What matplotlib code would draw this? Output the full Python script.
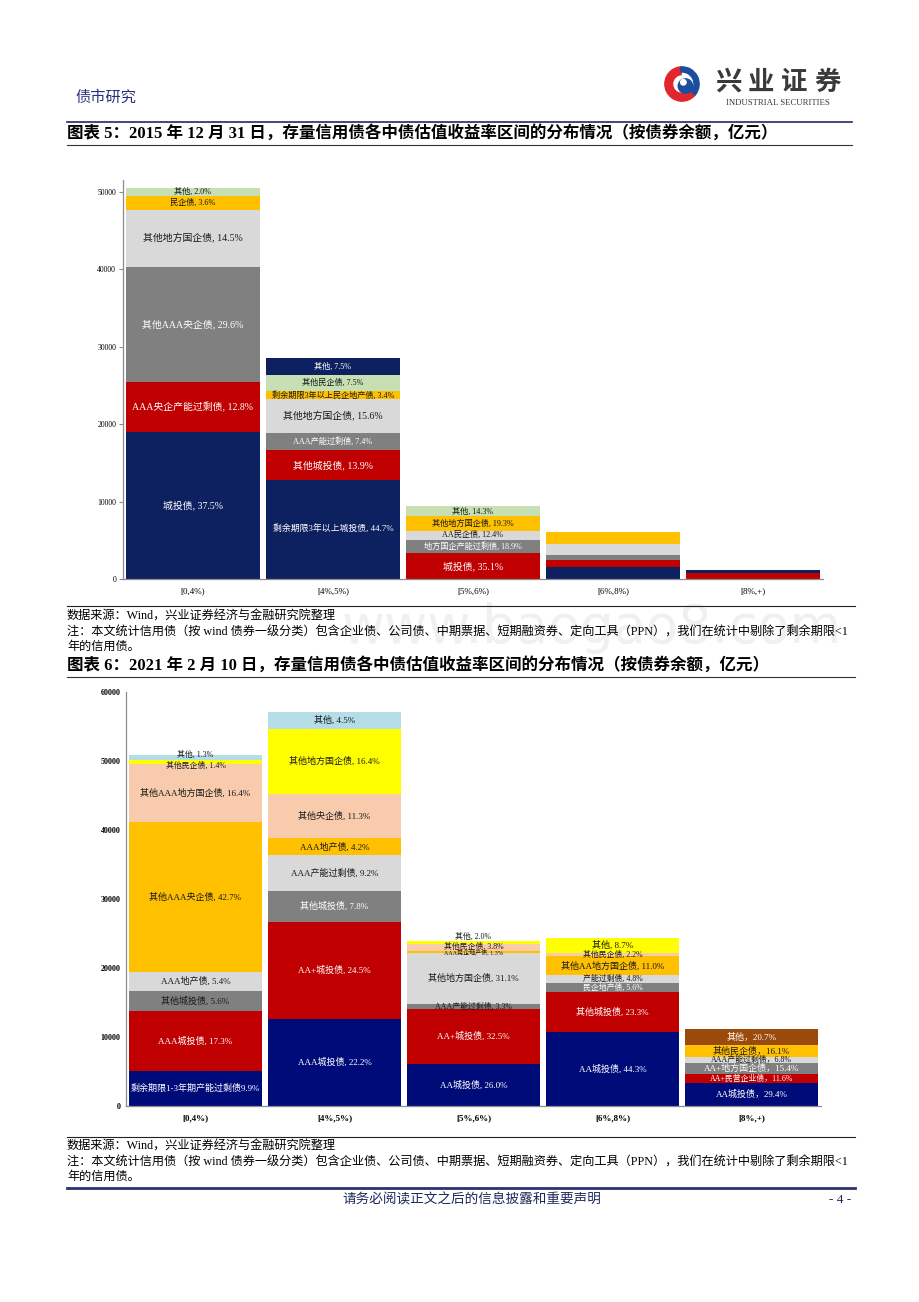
import matplotlib.pyplot as plt
from matplotlib.lines import Line2D
from matplotlib.patches import Wedge, Circle

plt.rcParams['font.family'] = ['Liberation Serif', 'Noto Sans CJK SC', 'DejaVu Sans']

W, H = 920, 1302
fig = plt.figure(figsize=(W / 100, H / 100), dpi=100)


def px_axes(x0, y0, x1, y1):
    # box in page pixels, y measured from the top
    return fig.add_axes([x0 / W, 1 - y1 / H, (x1 - x0) / W, (y1 - y0) / H])


def ftxt(x, y, s, **kw):
    fig.text(x / W, 1 - y / H, s, **kw)


def hline(y, x0, x1, **kw):
    fig.add_artist(Line2D([x0 / W, x1 / W], [1 - y / H, 1 - y / H],
                          transform=fig.transFigure, **kw))


cats = ['[0,4%)', '[4%,5%)', '[5%,6%)', '[6%,8%)', '[8%,+)']

# ---- chart 1 data: 2015-12-31 (亿元), bottom to top
vals15 = [
    [18940, 6460, 14950, 7320, 1820, 1010],
    [12760, 3970, 2110, 4450, 970, 2140, 2140],
    [3310, 1780, 1170, 1820, 1350],
    [1550, 900, 650, 1420, 1550],
    [750, 400],
]
labels15 = [
    ['城投债, 37.5%', 'AAA央企产能过剩债, 12.8%', '其他AAA央企债, 29.6%',
     '其他地方国企债, 14.5%', '民企债, 3.6%', '其他, 2.0%'],
    ['剩余期限3年以上城投债, 44.7%', '其他城投债, 13.9%', 'AAA产能过剩债, 7.4%',
     '其他地方国企债, 15.6%', '剩余期限3年以上民企地产债, 3.4%', '其他民企债, 7.5%',
     '其他, 7.5%'],
    ['城投债, 35.1%', '地方国企产能过剩债, 18.9%', 'AA民企债, 12.4%',
     '其他地方国企债, 19.3%', '其他, 14.3%'],
    ['', '', '', '', ''],
    ['', ''],
]

# ---- chart 2 data: 2021-02-10 (亿元), bottom to top
vals21 = [
    [5040, 8800, 2850, 2750, 21720, 8340, 710, 660],
    [12680, 13990, 4450, 5250, 2400, 6450, 9360, 2570],
    [6150, 7850, 800, 7400, 310, 900, 490],
    [10790, 5670, 1360, 1170, 2680, 540, 2120],
    [3280, 1290, 1720, 760, 1800, 2310],
]
labels21 = [
    ['剩余期限1-3年期产能过剩债9.9%', 'AAA城投债, 17.3%', '其他城投债, 5.6%',
     'AAA地产债, 5.4%', '其他AAA央企债, 42.7%', '其他AAA地方国企债, 16.4%',
     '其他民企债, 1.4%', '其他, 1.3%'],
    ['AAA城投债, 22.2%', 'AA+城投债, 24.5%', '其他城投债, 7.8%', 'AAA产能过剩债, 9.2%',
     'AAA地产债, 4.2%', '其他央企债, 11.3%', '其他地方国企债, 16.4%', '其他, 4.5%'],
    ['AA城投债, 26.0%', 'AA+城投债, 32.5%', 'AAA产能过剩债, 3.3%', '其他地方国企债, 31.1%',
     'AAA民企地产债, 1.3%', '其他民企债, 3.8%', '其他, 2.0%'],
    ['AA城投债, 44.3%', '其他城投债, 23.3%', '民企地产债, 5.6%', '产能过剩债, 4.8%',
     '其他AA地方国企债, 11.0%', '其他民企债, 2.2%', '其他, 8.7%'],
    ['AA城投债，29.4%', 'AA+民营企业债，11.6%', 'AA+地方国企债，15.4%',
     'AAA产能过剩债，6.8%', '其他民企债，16.1%', '其他，20.7%'],
]

# ---- colours
NAVY1, NAVY2 = '#0D2160', '#000B7A'
RED, GRAY, LGRAY = '#C00000', '#808080', '#D9D9D9'
GOLD, LGREEN = '#FFC000', '#C6E0B4'
PEACH, YELLOW, LBLUE, BROWN = '#F8CBAD', '#FFFF00', '#B4DDE8', '#9A4A0B'

cols15 = [
    [NAVY1, RED, GRAY, LGRAY, GOLD, LGREEN],
    [NAVY1, RED, GRAY, LGRAY, GOLD, LGREEN, NAVY1],
    [RED, GRAY, LGRAY, GOLD, LGREEN],
    [NAVY1, RED, GRAY, LGRAY, GOLD],
    [RED, NAVY1],
]
cols21 = [
    [NAVY2, RED, GRAY, LGRAY, GOLD, PEACH, YELLOW, LBLUE],
    [NAVY2, RED, GRAY, LGRAY, GOLD, PEACH, YELLOW, LBLUE],
    [NAVY2, RED, GRAY, LGRAY, GOLD, PEACH, YELLOW],
    [NAVY2, RED, GRAY, LGRAY, GOLD, PEACH, YELLOW],
    [NAVY2, RED, GRAY, LGRAY, GOLD, BROWN],
]
DARK = {NAVY1, NAVY2, RED, GRAY, BROWN}


def stacked(ax, vals, labels, cols, size_fn, bold=False, dark_text=(), shift=None):
    shift = shift or {}
    for i, (vs, ls, cs) in enumerate(zip(vals, labels, cols)):
        bottom = 0
        for j, (v, lab, c) in enumerate(zip(vs, ls, cs)):
            ax.bar(i, v, bottom=bottom, width=0.955, color=c, linewidth=0)
            if lab:
                tc = 'white' if (c in DARK and (i, j) not in dark_text) else '#1a1a1a'
                y = bottom + v / 2 + shift.get((i, j), 0)
                ax.text(i, y, lab, ha='center', va='center', color=tc,
                        fontsize=size_fn(v, lab))
            bottom += v
    ax.set_xlim(-0.5, len(vals) - 0.5)
    ax.set_xticks(range(len(cats)))
    ax.set_xticklabels(cats, fontweight='bold' if bold else 'normal', fontsize=6.5)
    for s in ['top', 'right']:
        ax.spines[s].set_visible(False)
    for s in ['left', 'bottom']:
        ax.spines[s].set_color('#8C8C8C')
        ax.spines[s].set_linewidth(0.9)
    ax.tick_params(axis='x', length=0, pad=6)


def size15(v, lab):
    fs = 7.1 if v >= 3000 else 5.9
    if len(lab) >= 18:
        fs = min(fs, 6.4)
    return fs


def size21(v, lab):
    return 6.5 if v >= 1500 else (5.7 if v >= 400 else 4.3)


# ---- chart 1
ax1 = px_axes(123, 180.4, 823, 579)
stacked(ax1, vals15, labels15, cols15, size15)
ax1.set_ylim(0, 51500)
ax1.set_yticks(range(0, 50001, 10000))
ax1.tick_params(axis='y', length=3, width=0.8, color='#8C8C8C', labelsize=5.5, pad=2)

# ---- chart 2
ax2 = px_axes(126, 692, 821, 1106)
stacked(ax2, vals21, labels21, cols21, size21,
        bold=True, dark_text={(0, 2), (2, 2)},
        shift={(0, 7): 350, (0, 6): -550, (2, 6): 900, (2, 5): 150, (2, 4): -250})
ax2.set_ylim(0, 60000)
ax2.set_yticks(range(0, 60001, 10000))
ax2.tick_params(axis='y', length=0, labelsize=5.8, pad=4)
for t in ax2.get_yticklabels():
    t.set_fontweight('bold')

# ---- page furniture
ftxt(592, 628, 'www.baogao8.com', fontsize=38, color='#F0F0F0', ha='center',
     va='center', family='DejaVu Sans', zorder=0)

ftxt(75, 97, '债市研究', fontsize=11, color='#2B2F7F', va='center')

lax = px_axes(664, 66, 700, 102)
lax.set_xlim(-1.05, 1.05)
lax.set_ylim(-1.05, 1.05)
lax.set_aspect('equal')
lax.axis('off')
lax.add_patch(Wedge((0, 0), 1, 95, 320, width=0.45, color='#E1262D'))
lax.add_patch(Wedge((0, 0), 1, -40, 95, width=0.3, color='#1C4E9D'))
lax.add_patch(Circle((0.2, -0.12), 0.42, color='#1C4E9D'))
lax.add_patch(Circle((0.08, 0.1), 0.16, color='white'))
for k, ch in enumerate('兴业证券'):
    ftxt(728 + 33 * k, 82, ch, fontsize=19, fontweight='bold', color='#3A3A3A',
         ha='center', va='center', family='Noto Sans CJK SC')
ftxt(778, 103, 'INDUSTRIAL SECURITIES', fontsize=6.3, color='#3A3A3A',
     ha='center', va='center', family='Liberation Serif')

hline(122, 67, 852, color='#1F2A6B', lw=1.2)
ftxt(67, 133, '图表 5：2015 年 12 月 31 日，存量信用债各中债估值收益率区间的分布情况（按债券余额，亿元）',
     fontsize=11.9, fontweight='bold', va='center')
hline(145, 67, 852, color='#333333', lw=0.8)

src = '数据来源：Wind，兴业证券经济与金融研究院整理'
note1 = '注：本文统计信用债（按 wind 债券一级分类）包含企业债、公司债、中期票据、短期融资券、定向工具（PPN），我们在统计中剔除了剩余期限<1'
note2 = '年的信用债。'

hline(606, 67, 855, color='#222222', lw=0.8)
ftxt(67, 617, src, fontsize=8.75, va='center')
ftxt(67, 632, note1, fontsize=8.75, va='center')
ftxt(67, 647, note2, fontsize=8.75, va='center')

ftxt(67, 665, '图表 6：2021 年 2 月 10 日，存量信用债各中债估值收益率区间的分布情况（按债券余额，亿元）',
     fontsize=11.9, fontweight='bold', va='center')
hline(677, 67, 855, color='#333333', lw=0.8)

hline(1137, 67, 855, color='#222222', lw=0.8)
ftxt(67, 1147, src, fontsize=8.75, va='center')
ftxt(67, 1162, note1, fontsize=8.75, va='center')
ftxt(67, 1177, note2, fontsize=8.75, va='center')

hline(1188, 67, 855, color='#2B3270', lw=2)
ftxt(472, 1200, '请务必阅读正文之后的信息披露和重要声明', fontsize=9.8, color='#1F2A5B',
     ha='center', va='center')
ftxt(840, 1200, '- 4 -', fontsize=9.5, color='#1F2A5B', ha='center', va='center')

fig.savefig('out.png', dpi=100)
